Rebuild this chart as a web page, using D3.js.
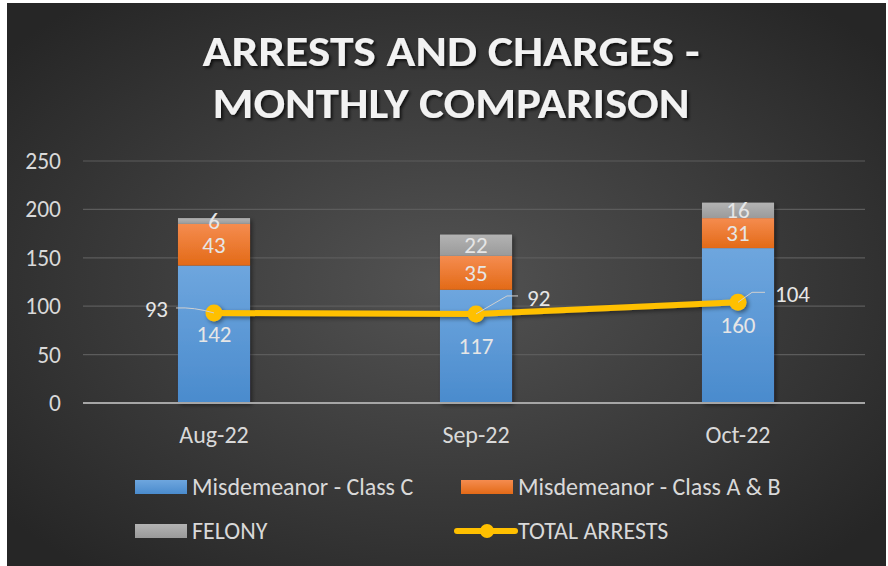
<!DOCTYPE html>
<html>
<head>
<meta charset="utf-8">
<script src="https://cdn.jsdelivr.net/npm/d3@7"></script>
<style>
  body { margin: 0; background: #ffffff; }
  svg { display: block; font-family: Carlito, Calibri, Lato, sans-serif; }
</style>
</head>
<body>
<div id="chart"></div>
<script>
// chart data
var months = ["Aug-22", "Sep-22", "Oct-22"];
var classC = [142, 117, 160];
var classAB = [43, 35, 31];
var felony = [6, 22, 16];
var totalArrests = [93, 92, 104];
var yTicks = [0, 50, 100, 150, 200, 250];

var seriesNames = ["Misdemeanor - Class C", "Misdemeanor - Class A & B", "FELONY", "TOTAL ARRESTS"];

// svg size and plot area
var svgWidth = 888;
var svgHeight = 566;
var plot = { left: 83, right: 869, top: 161, bottom: 403 };
var font = "Carlito, Calibri, Lato, sans-serif";

var svg = d3.select("#chart").append("svg")
    .attr("width", svgWidth)
    .attr("height", svgHeight);

var defs = svg.append("defs");

var bg = defs.append("radialGradient").attr("id", "bgGrad")
    .attr("cx", "50%").attr("cy", "50%").attr("r", "65%");
bg.append("stop").attr("offset", "0%").attr("stop-color", "#535353");
bg.append("stop").attr("offset", "100%").attr("stop-color", "#262626");

function vGrad(id, top, bottom) {
    var g = defs.append("linearGradient").attr("id", id)
        .attr("x1", 0).attr("y1", 0).attr("x2", 0).attr("y2", 1);
    g.append("stop").attr("offset", "0%").attr("stop-color", top);
    g.append("stop").attr("offset", "100%").attr("stop-color", bottom);
}
vGrad("gBlue", "#6ea6de", "#4a8bcd");
vGrad("gOrange", "#f58c4f", "#e36a17");
vGrad("gGray", "#b3b3b3", "#9a9a9a");

var shadow = defs.append("filter").attr("id", "shadow")
    .attr("x", "-20%").attr("y", "-20%").attr("width", "140%").attr("height", "140%");
shadow.append("feDropShadow").attr("dx", 2).attr("dy", 2)
    .attr("stdDeviation", 2).attr("flood-color", "#000").attr("flood-opacity", 0.45);

var titleShadow = defs.append("filter").attr("id", "tshadow")
    .attr("x", "-10%").attr("y", "-30%").attr("width", "120%").attr("height", "160%");
titleShadow.append("feDropShadow").attr("dx", 2).attr("dy", 2)
    .attr("stdDeviation", 1.8).attr("flood-color", "#000").attr("flood-opacity", 0.7);

// card background
svg.append("rect")
    .attr("x", 7).attr("y", 3)
    .attr("width", 879).attr("height", 563)
    .attr("fill", "url(#bgGrad)");

// title
var title = svg.append("g").attr("filter", "url(#tshadow)")
    .attr("fill", "#f2f2f2").attr("font-weight", "bold")
    .attr("font-size", 42).attr("text-anchor", "middle");
title.append("text").attr("x", 451).attr("y", 66)
    .attr("textLength", 497).attr("lengthAdjust", "spacingAndGlyphs")
    .text("ARRESTS AND CHARGES -");
title.append("text").attr("x", 451).attr("y", 118)
    .attr("textLength", 477).attr("lengthAdjust", "spacingAndGlyphs")
    .text("MONTHLY COMPARISON");

// scales
var xScale = d3.scaleBand()
    .domain(months)
    .range([plot.left, plot.right])
    .paddingInner(0.725)
    .paddingOuter(0.3625);

var yScale = d3.scaleLinear()
    .domain([0, 250])
    .range([plot.bottom, plot.top]);

// gridlines
svg.append("g").selectAll("line")
    .data(yTicks.filter(d => d > 0))
    .enter().append("line")
    .attr("x1", plot.left).attr("x2", 865)
    .attr("y1", d => yScale(d)).attr("y2", d => yScale(d))
    .attr("stroke", "#5c5c5c").attr("stroke-width", 1.2);

// y axis labels
var leftAxis = d3.axisLeft(yScale).tickValues(yTicks).tickSize(0).tickPadding(0);
var yAxis = svg.append("g")
    .attr("transform", "translate(61,0)")
    .call(leftAxis);
yAxis.select(".domain").remove();
yAxis.selectAll("text")
    .attr("fill", "#d9d9d9").attr("font-size", 23.5)
    .style("font-family", font);

// stacked bars
var rows = months.map((m, i) => ({ month: m, c: classC[i], ab: classAB[i], f: felony[i] }));
var stack = d3.stack().keys(["c", "ab", "f"]);
var layers = stack(rows);
var fills = ["url(#gBlue)", "url(#gOrange)", "url(#gGray)"];

var barGroup = svg.append("g").attr("filter", "url(#shadow)");
layers.forEach((layer, li) => {
    barGroup.selectAll(".bar" + li)
        .data(layer)
        .enter().append("rect")
        .attr("x", d => xScale(d.data.month))
        .attr("width", xScale.bandwidth())
        .attr("y", d => yScale(d[1]))
        .attr("height", d => yScale(d[0]) - yScale(d[1]))
        .attr("fill", fills[li]);
});

// x axis baseline
svg.append("line")
    .attr("x1", plot.left).attr("x2", 865)
    .attr("y1", yScale(0)).attr("y2", yScale(0))
    .attr("stroke", "#a6a6a6").attr("stroke-width", 2);

// x axis labels
var bottomAxis = d3.axisBottom(xScale).tickSize(0).tickPadding(0);
var xAxis = svg.append("g")
    .attr("transform", "translate(0,426)")
    .call(bottomAxis);
xAxis.select(".domain").remove();
xAxis.selectAll("text")
    .attr("fill", "#d9d9d9").attr("font-size", 24)
    .style("font-family", font);

// bar value labels
layers.forEach(layer => {
    svg.append("g").selectAll("text")
        .data(layer)
        .enter().append("text")
        .attr("x", d => xScale(d.data.month) + xScale.bandwidth() / 2)
        .attr("y", d => (yScale(d[0]) + yScale(d[1])) / 2)
        .attr("dy", "0.34em")
        .attr("text-anchor", "middle")
        .attr("fill", "#e6e6e6").attr("font-size", 23)
        .text(d => d[1] - d[0]);
});

// total arrests line
var cx = d => xScale(d) + xScale.bandwidth() / 2;
var linePts = months.map((m, i) => [cx(m), yScale(totalArrests[i])]);

var lineGroup = svg.append("g").attr("filter", "url(#shadow)");
lineGroup.append("path")
    .attr("d", d3.line()(linePts))
    .attr("fill", "none")
    .attr("stroke", "#ffc000").attr("stroke-width", 6)
    .attr("stroke-linejoin", "round");
lineGroup.selectAll("circle")
    .data(linePts)
    .enter().append("circle")
    .attr("cx", d => d[0]).attr("cy", d => d[1])
    .attr("r", 8.5)
    .attr("fill", "#ffc000");

// line labels with leader lines
var labelOffsets = [
    { lx: -46, ly: -4, anchor: "end", path: (x, y) => `M${x},${y} Q${x - 20},${y - 6} ${x - 38},${y - 5}` },
    { lx: 51, ly: -16, anchor: "start", path: (x, y) => `M${x},${y} L${x + 31},${y - 18} L${x + 42},${y - 18}` },
    { lx: 37, ly: -8, anchor: "start", path: (x, y) => `M${x},${y} L${x + 14},${y - 10} L${x + 27},${y - 10}` }
];
linePts.forEach((p, i) => {
    var o = labelOffsets[i];
    svg.append("path")
        .attr("d", o.path(p[0], p[1]))
        .attr("fill", "none")
        .attr("stroke", "#d0d0d0").attr("stroke-width", 1);
    svg.append("text")
        .attr("x", p[0] + o.lx)
        .attr("y", p[1] + o.ly)
        .attr("dy", "0.34em")
        .attr("text-anchor", o.anchor)
        .attr("fill", "#e6e6e6").attr("font-size", 23)
        .text(totalArrests[i]);
});

// legend
var legendItems = [
    { name: seriesNames[0], x: 135, y: 487, type: "rect", fill: "url(#gBlue)" },
    { name: seriesNames[1], x: 461, y: 487, type: "rect", fill: "url(#gOrange)" },
    { name: seriesNames[2], x: 135, y: 531, type: "rect", fill: "url(#gGray)" },
    { name: seriesNames[3], x: 457, y: 531, type: "line", fill: "#ffc000" }
];
var legend = svg.append("g");
legendItems.forEach(item => {
    var g = legend.append("g");
    if (item.type === "rect") {
        g.append("rect")
            .attr("x", item.x).attr("y", item.y - 7)
            .attr("width", 52).attr("height", 14)
            .attr("fill", item.fill);
        g.append("text")
            .attr("x", item.x + 57).attr("y", item.y)
            .attr("dy", "0.34em")
            .attr("fill", "#d9d9d9").attr("font-size", 24)
            .text(item.name);
    } else {
        g.append("line")
            .attr("x1", item.x).attr("x2", item.x + 58)
            .attr("y1", item.y).attr("y2", item.y)
            .attr("stroke", item.fill).attr("stroke-width", 6)
            .attr("stroke-linecap", "round");
        g.append("circle")
            .attr("cx", item.x + 30).attr("cy", item.y).attr("r", 7)
            .attr("fill", item.fill);
        g.append("text")
            .attr("x", item.x + 61).attr("y", item.y)
            .attr("dy", "0.34em")
            .attr("fill", "#d9d9d9").attr("font-size", 24)
            .text(item.name);
    }
});
</script>
</body>
</html>
